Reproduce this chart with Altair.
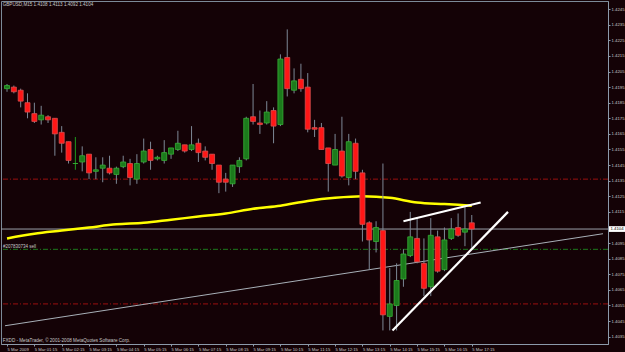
import altair as alt
import pandas as pd

# ---- data (GBPUSD M15, 5 Mar 2009, bars 00:15 .. 17:15) ----
opens = [1.4194, 1.4195, 1.4193, 1.4185, 1.4178, 1.4174, 1.4176, 1.4175, 1.4166, 1.4160,
         1.4146, 1.4147, 1.4152, 1.4141, 1.4143, 1.4143, 1.4139, 1.4144, 1.4146, 1.4136,
         1.4147, 1.4155, 1.4149, 1.4148, 1.4152, 1.4155, 1.4158, 1.4155, 1.4159, 1.4154,
         1.4152, 1.4145, 1.4136, 1.4133, 1.4144, 1.4149, 1.4176, 1.4172, 1.4172, 1.4180,
         1.4171, 1.4214, 1.4193, 1.4200, 1.4195, 1.4169, 1.4169, 1.4156, 1.4145, 1.4154,
         1.4137, 1.4159, 1.4140, 1.4108, 1.4096, 1.4103, 1.4048, 1.4055, 1.4072, 1.4087,
         1.4098, 1.4082, 1.4067, 1.4099, 1.4078, 1.4098, 1.4105, 1.4102, 1.4108]
highs = [1.4197, 1.4196, 1.4194, 1.4191, 1.4185, 1.4183, 1.4177, 1.4175, 1.4170, 1.4160,
         1.4163, 1.4157, 1.4152, 1.4150, 1.4150, 1.4151, 1.4144, 1.4151, 1.4149, 1.4152,
         1.4162, 1.4160, 1.4151, 1.4161, 1.4156, 1.4167, 1.4158, 1.4170, 1.4162, 1.4157,
         1.4152, 1.4145, 1.4140, 1.4145, 1.4150, 1.4176, 1.4197, 1.4180, 1.4186, 1.4182,
         1.4216, 1.4232, 1.4207, 1.4210, 1.4204, 1.4174, 1.4172, 1.4156, 1.4165, 1.4176,
         1.4165, 1.4162, 1.4142, 1.4109, 1.4109, 1.4146, 1.4079, 1.4082, 1.4091, 1.4115,
         1.4111, 1.4098, 1.4111, 1.4103, 1.4105, 1.4111, 1.4114, 1.4119, 1.4113]
lows = [1.4192, 1.4191, 1.4182, 1.4175, 1.4172, 1.4171, 1.4172, 1.4151, 1.4153, 1.4146,
        1.4142, 1.4141, 1.4136, 1.4136, 1.4134, 1.4139, 1.4133, 1.4143, 1.4132, 1.4133,
        1.4146, 1.4142, 1.4148, 1.4146, 1.4149, 1.4154, 1.4153, 1.4154, 1.4147, 1.4148,
        1.4142, 1.4127, 1.4128, 1.4131, 1.4140, 1.4148, 1.4171, 1.4165, 1.4171, 1.4159,
        1.4170, 1.4189, 1.4191, 1.4192, 1.4166, 1.4163, 1.4155, 1.4128, 1.4145, 1.4137,
        1.4132, 1.4136, 1.4096, 1.4078, 1.4089, 1.4039, 1.4039, 1.4039, 1.4067, 1.4086,
        1.4082, 1.4061, 1.4061, 1.4076, 1.4077, 1.4097, 1.4099, 1.4093, 1.4092]
closes = [1.4196, 1.4192, 1.4186, 1.4179, 1.4173, 1.4177, 1.4174, 1.4165, 1.4159, 1.4148,
          1.4146, 1.4151, 1.4140, 1.4142, 1.4145, 1.4140, 1.4143, 1.4147, 1.4137, 1.4146,
          1.4154, 1.4148, 1.4150, 1.4153, 1.4156, 1.4159, 1.4154, 1.4158, 1.4153, 1.4150,
          1.4146, 1.4134, 1.4134, 1.4145, 1.4148, 1.4175, 1.4173, 1.4171, 1.4179, 1.4170,
          1.4213, 1.4194, 1.4199, 1.4194, 1.4168, 1.4168, 1.4155, 1.4146, 1.4155, 1.4138,
          1.4160, 1.4141, 1.4107, 1.4097, 1.4105, 1.4049, 1.4056, 1.4071, 1.4088, 1.4099,
          1.4083, 1.4066, 1.4100, 1.4077, 1.4097, 1.4104, 1.4100, 1.4104, 1.4104]

# moving average (yellow), read every 4th bar
ma_bar = [0, 4, 8, 12, 16, 20, 24, 28, 32, 36, 40, 44, 48, 52, 56, 60, 64, 68]
ma_val = [1.4098, 1.4101, 1.4103, 1.4105, 1.4107, 1.4108, 1.4110, 1.4112, 1.4114,
          1.4117, 1.4119, 1.4122, 1.4124, 1.4125, 1.4124, 1.4121, 1.4120, 1.4119]

# long thin grey trend line (bar index, price)
trend_bar = [-0.3, 87.2]
trend_val = [1.4042, 1.4101]

# white hand-drawn lines
upper_bar = [58.0, 69.3]
upper_val = [1.4109, 1.4121]
lower_bar = [56.4, 73.3]
lower_val = [1.4039, 1.4115]

# horizontal levels
red_levels = [1.4136, 1.4056]
green_level = [1.4091]
green_label = ["#207830734 sell"]
last_price = [1.4104]

# axis ticks (1.4105 sits under the last-price box in the reference)
x_tick_bar = [0, 4, 8, 12, 16, 20, 24, 28, 32, 36, 40, 44, 48, 52, 56, 60, 64, 68]
x_tick_label = ["5 Mar 2009", "5 Mar 01:15", "5 Mar 02:15", "5 Mar 03:15", "5 Mar 04:15",
                "5 Mar 05:15", "5 Mar 06:15", "5 Mar 07:15", "5 Mar 08:15", "5 Mar 09:15",
                "5 Mar 10:15", "5 Mar 11:15", "5 Mar 12:15", "5 Mar 13:15", "5 Mar 14:15",
                "5 Mar 15:15", "5 Mar 16:15", "5 Mar 17:15"]
y_ticks = [1.4035, 1.4045, 1.4055, 1.4065, 1.4075, 1.4085, 1.4095, 1.4115,
           1.4125, 1.4135, 1.4145, 1.4155, 1.4165, 1.4175, 1.4185, 1.4195, 1.4205,
           1.4215, 1.4225, 1.4235, 1.4245]

title_text = "GBPUSD,M15  1.4108 1.4113 1.4092 1.4104"
copyright_text = "FXDD - MetaTrader, \u00a9 2001-2008 MetaQuotes Software Corp."

# ---- styling ----
BG = "#140206"
AXC = "#8c9aaa"
LBL = "#c8c8c8"
FONT = "Liberation Sans"

bars = pd.DataFrame({"i": list(range(len(opens))), "open": opens, "high": highs,
                     "low": lows, "close": closes})
ma = pd.DataFrame({"i": ma_bar, "v": ma_val})
trend = pd.DataFrame({"i": trend_bar, "v": trend_val})
upper = pd.DataFrame({"i": upper_bar, "v": upper_val})
lower = pd.DataFrame({"i": lower_bar, "v": lower_val})
reds = pd.DataFrame({"v": red_levels})
greens = pd.DataFrame({"v": green_level, "t": green_label})
lastp = pd.DataFrame({"v": last_price, "t": [f"{p:.4f}" for p in last_price]})

xs = alt.Scale(domain=[-0.15, 87.2], nice=False, zero=False)
ys = alt.Scale(domain=[1.40303, 1.42502], nice=False, zero=False)

label_js = "[" + ",".join(f"'{t}'" for t in x_tick_label) + "]"
idx_js = "[" + ",".join(str(v) for v in x_tick_bar) + "]"
xaxis = alt.Axis(orient="bottom", values=x_tick_bar, title=None, grid=False,
                 labelExpr=f"{label_js}[indexof({idx_js}, datum.value)]",
                 labelAlign="left", labelBaseline="top", labelPadding=1,
                 labelFont=FONT, labelFontSize=4.2, labelColor=LBL, labelFlush=False,
                 labelOverlap=False, tickSize=2, tickColor=AXC, domainColor=AXC)
yaxis = alt.Axis(orient="right", values=y_ticks, format=".4f", title=None, grid=False,
                 labelFont=FONT, labelFontSize=4.3, labelColor=LBL, labelPadding=1,
                 labelOverlap=False, labelFlush=False, tickSize=2, tickColor=AXC,
                 domainColor=AXC)

X = lambda f: alt.X(f, scale=xs, axis=xaxis)
Y = lambda f: alt.Y(f, scale=ys, axis=yaxis)

levels_red = alt.Chart(reds).mark_rule(color="#9a1010", strokeWidth=1,
                                       strokeDash=[5, 2, 1, 2]).encode(y=Y("v:Q"))
levels_green = alt.Chart(greens).mark_rule(color="#1e7a1e", strokeWidth=1,
                                           strokeDash=[5, 2, 1, 2]).encode(y=Y("v:Q"))
green_txt = alt.Chart(greens).mark_text(align="left", baseline="bottom", dy=-0.5,
                                        font=FONT, fontSize=4.5, color=LBL).encode(
    x=alt.value(2), y=Y("v:Q"), text="t:N")
price_line = alt.Chart(lastp).mark_rule(color="#9aa0aa", strokeWidth=1).encode(y=Y("v:Q"))
trend_line = alt.Chart(trend).mark_line(color="#a8b0b8", strokeWidth=1, clip=True).encode(
    x=X("i:Q"), y=Y("v:Q"))
ma_line = alt.Chart(ma).mark_line(color="#ffff00", strokeWidth=2.5,
                                  interpolate="monotone").encode(x=X("i:Q"), y=Y("v:Q"))

wick = alt.Chart(bars).mark_rule(strokeWidth=1).encode(
    x=X("i:Q"), y=Y("low:Q"), y2="high:Q",
    color=alt.condition("datum.open == datum.close", alt.value("#1e9a1e"),
                        alt.value("#7d8896")))
body = alt.Chart(bars).mark_bar(size=5, strokeWidth=0.8).encode(
    x=X("i:Q"), y=Y("open:Q"), y2="close:Q",
    fill=alt.condition("datum.close >= datum.open", alt.value("#1c7a1c"),
                       alt.value("#ff1616")),
    stroke=alt.condition("datum.close >= datum.open", alt.value("#36b036"),
                         alt.value("#d85050")))

white_up = alt.Chart(upper).mark_line(color="#ffffff", strokeWidth=2.2).encode(
    x=X("i:Q"), y=Y("v:Q"))
white_lo = alt.Chart(lower).mark_line(color="#ffffff", strokeWidth=2.2).encode(
    x=X("i:Q"), y=Y("v:Q"))

price_box = alt.Chart(lastp).mark_point(
    shape="M-1,-0.36L1,-0.36L1,0.36L-1,0.36Z", size=256, filled=True,
    color="#ffffff", opacity=1).encode(x=alt.value(616), y=Y("v:Q"))
price_txt = alt.Chart(lastp).mark_text(font=FONT, fontSize=4.3, color="#000000",
                                       align="center", baseline="middle").encode(
    x=alt.value(616), y=Y("v:Q"), text="t:N")

title_mark = alt.Chart(pd.DataFrame({"t": [title_text]})).mark_text(
    align="left", baseline="middle", font=FONT, fontSize=4.6, color=LBL).encode(
    x=alt.value(1.7), y=alt.value(3.7), text="t:N")
copy_mark = alt.Chart(pd.DataFrame({"t": [copyright_text]})).mark_text(
    align="left", baseline="middle", font=FONT, fontSize=4.6, color=LBL).encode(
    x=alt.value(1.7), y=alt.value(339.5), text="t:N")

chart = alt.layer(
    levels_red, levels_green, green_txt, price_line, trend_line, ma_line,
    wick, body, white_up, white_lo, price_box, price_txt, title_mark, copy_mark
).properties(
    width=607, height=343, autosize="none",
    padding={"left": 1, "top": 1, "right": 17, "bottom": 8},
    background=BG,
).configure_view(stroke="#7c8a98", strokeWidth=1)

chart.save("out.html", embed_options={"renderer": "svg", "actions": False})
